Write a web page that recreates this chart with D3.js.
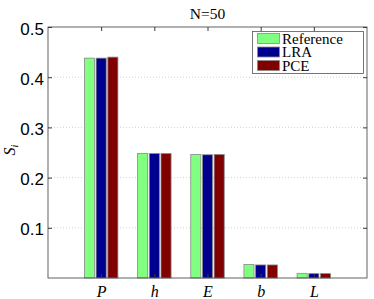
<!DOCTYPE html>
<html>
<head>
<meta charset="utf-8">
<script src="https://cdn.jsdelivr.net/npm/d3@7"></script>
<style>
  body { margin: 0; background: #fff; }
  svg { display: block; }
</style>
</head>
<body>
<script>
// chart data
const categories = ['P', 'h', 'E', 'b', 'L'];
const seriesNames = ['Reference', 'LRA', 'PCE'];
const referenceValues = [0.438, 0.248, 0.246, 0.027, 0.0093];
const lraValues = [0.438, 0.248, 0.2455, 0.026, 0.0087];
const pceValues = [0.440, 0.248, 0.246, 0.026, 0.0087];
const yTicks = [0.1, 0.2, 0.3, 0.4, 0.5];

const seriesValues = [referenceValues, lraValues, pceValues];
const colors = ['#80ff80', '#00008f', '#800000'];

const width = 374;
const height = 299;
const plotLeft = 48, plotRight = 367, plotTop = 27, plotBottom = 278;

const svg = d3.select('body')
  .append('svg')
    .attr('width', width)
    .attr('height', height);

// x positions 1..5 inside a 0..6 domain, like the original plot
const xScale = d3.scaleLinear()
    .domain([0, categories.length + 1])
    .range([plotLeft, plotRight]);

const yScale = d3.scaleLinear()
    .domain([0, 0.5])
    .range([plotBottom, plotTop]);

const unit = xScale(1) - xScale(0);
const slot = unit * 0.22;
const barWidth = unit * 0.19;

// dotted grid lines
svg.append('g')
  .selectAll('line')
  .data(yTicks.slice(0, -1))
  .enter()
  .append('line')
    .attr('x1', plotLeft)
    .attr('x2', plotRight)
    .attr('y1', d => yScale(d))
    .attr('y2', d => yScale(d))
    .attr('stroke', '#c8c8c8')
    .attr('stroke-width', 0.8)
    .attr('stroke-dasharray', '1,2');

// bars
seriesValues.forEach((values, s) => {
  svg.append('g')
    .selectAll('rect')
    .data(values)
    .enter()
    .append('rect')
      .attr('x', (d, i) => xScale(i + 1) + (s - 1) * slot - barWidth / 2)
      .attr('y', d => yScale(d))
      .attr('width', barWidth)
      .attr('height', d => yScale(0) - yScale(d))
      .attr('fill', colors[s])
      .attr('stroke', '#8a8a8a')
      .attr('stroke-width', 0.8);
});

// box and ticks
svg.append('rect')
    .attr('x', plotLeft)
    .attr('y', plotTop)
    .attr('width', plotRight - plotLeft)
    .attr('height', plotBottom - plotTop)
    .attr('fill', 'none')
    .attr('stroke', '#3a3a3a')
    .attr('stroke-width', 0.8);

const yAxis = d3.axisLeft(yScale)
    .tickValues(yTicks)
    .tickSize(-4)
    .tickPadding(4)
    .tickFormat(d3.format('.1f'));

svg.append('g')
    .attr('transform', `translate(${plotLeft},0)`)
    .call(yAxis)
    .call(g => g.select('.domain').remove())
    .call(g => g.selectAll('line').attr('stroke', '#3a3a3a'))
    .call(g => g.selectAll('text')
      .attr('font-family', '"Liberation Sans", Arial, sans-serif')
      .attr('font-size', 17)
      .attr('dy', '0.42em')
      .attr('fill', '#000'));

const yAxisRight = d3.axisRight(yScale)
    .tickValues(yTicks)
    .tickSize(-4)
    .tickFormat('');

svg.append('g')
    .attr('transform', `translate(${plotRight},0)`)
    .call(yAxisRight)
    .call(g => g.select('.domain').remove())
    .call(g => g.selectAll('line').attr('stroke', '#3a3a3a'));

const xTicks = categories.map((c, i) => i + 1);

const xAxis = d3.axisBottom(xScale)
    .tickValues(xTicks)
    .tickSize(-4)
    .tickPadding(8)
    .tickFormat((d, i) => categories[i]);

svg.append('g')
    .attr('transform', `translate(0,${plotBottom})`)
    .call(xAxis)
    .call(g => g.select('.domain').remove())
    .call(g => g.selectAll('line').attr('stroke', '#3a3a3a'))
    .call(g => g.selectAll('text')
      .attr('font-family', '"Liberation Serif", "DejaVu Serif", serif')
      .attr('font-style', 'italic')
      .attr('font-size', 16)
      .attr('fill', '#000'));

const xAxisTop = d3.axisTop(xScale)
    .tickValues(xTicks)
    .tickSize(-4)
    .tickFormat('');

svg.append('g')
    .attr('transform', `translate(0,${plotTop})`)
    .call(xAxisTop)
    .call(g => g.select('.domain').remove())
    .call(g => g.selectAll('line').attr('stroke', '#3a3a3a'));

// title
svg.append('text')
    .attr('x', (plotLeft + plotRight) / 2)
    .attr('y', 19)
    .attr('text-anchor', 'middle')
    .attr('font-family', '"Liberation Serif", "DejaVu Serif", serif')
    .attr('font-size', 15.5)
    .text('N=50');

// y label
svg.append('text')
    .attr('transform', 'translate(15,150) rotate(-90)')
    .attr('text-anchor', 'middle')
    .attr('font-family', '"Liberation Serif", "DejaVu Serif", serif')
    .attr('font-style', 'italic')
    .attr('font-size', 16)
    .text('S')
  .append('tspan')
    .attr('font-size', 10)
    .attr('dy', 3)
    .text('i');

// legend
const legend = svg.append('g');

legend.append('rect')
    .attr('x', 252.5)
    .attr('y', 31.5)
    .attr('width', 111)
    .attr('height', 42)
    .attr('fill', '#fff')
    .attr('stroke', '#555')
    .attr('stroke-width', 0.8);

seriesNames.forEach((name, s) => {
  legend.append('rect')
      .attr('x', 257.5)
      .attr('y', 33.5 + s * 13.5)
      .attr('width', 22)
      .attr('height', 10)
      .attr('fill', colors[s])
      .attr('stroke', '#8a8a8a')
      .attr('stroke-width', 0.8);
  legend.append('text')
      .attr('x', 282)
      .attr('y', 43.5 + s * 13.5)
      .attr('font-family', '"Liberation Serif", "DejaVu Serif", serif')
      .attr('font-size', 15)
      .text(name);
});
</script>
</body>
</html>
